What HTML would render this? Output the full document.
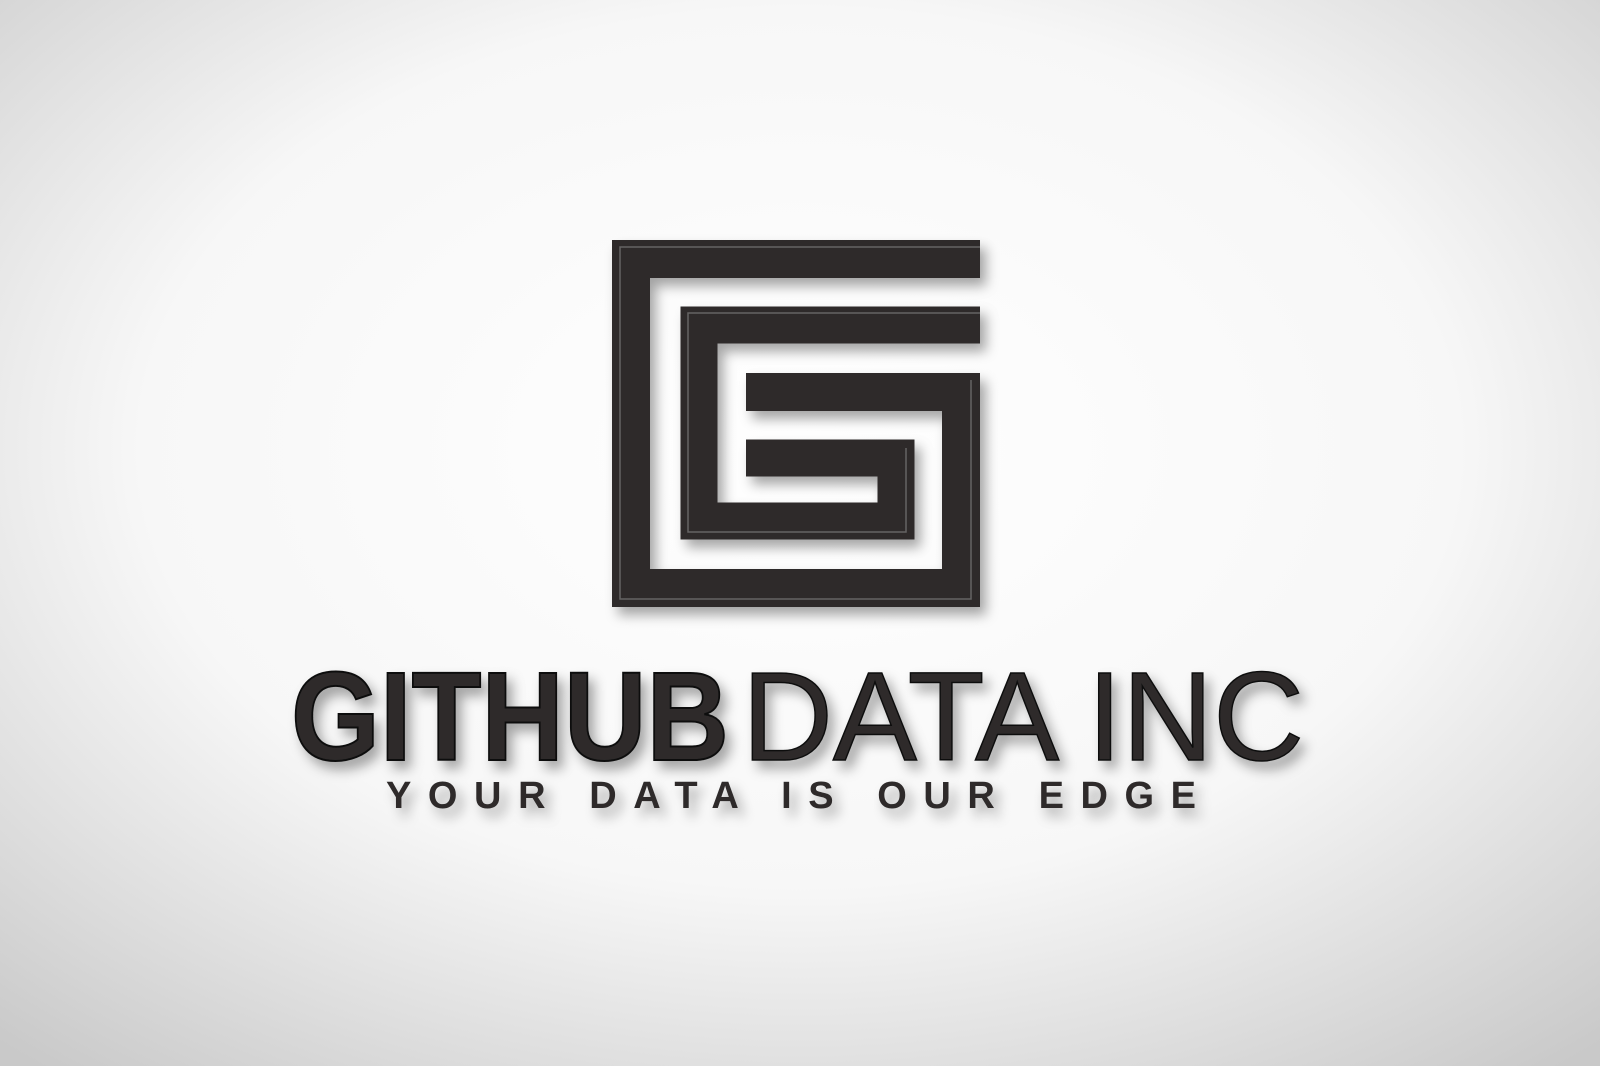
<!DOCTYPE html>
<html><head><meta charset="utf-8"><style>
html,body{margin:0;padding:0;width:1600px;height:1066px;overflow:hidden;background:#fff}
svg{display:block}
</style></head><body>
<svg width="1600" height="1066" viewBox="0 0 1600 1066" xmlns="http://www.w3.org/2000/svg">
<defs>
<radialGradient id="bg" cx="50%" cy="42%" r="75%">
<stop offset="0" stop-color="#ffffff"/><stop offset="0.55" stop-color="#f7f7f7"/><stop offset="1" stop-color="#c9c9c9"/>
</radialGradient>
<filter id="sh" x="-20%" y="-20%" width="150%" height="150%">
<feDropShadow dx="6" dy="8" stdDeviation="6" flood-color="#000" flood-opacity="0.35"/>
</filter>
<linearGradient id="metal" x1="0" y1="0" x2="1" y2="1">
<stop offset="0" stop-color="#3a3838"/><stop offset="0.5" stop-color="#2c2a2a"/><stop offset="1" stop-color="#353333"/>
</linearGradient>
</defs>
<rect width="1600" height="1066" fill="url(#bg)"/>
<g filter="url(#sh)" fill="none" stroke-linecap="butt" stroke-linejoin="miter">
<path d="M980 259 H631 V588 H961 V392 H746" stroke="#2e2c2c" stroke-width="38"/>
<path d="M980 325 H699 V521 H896 V458 H746" stroke="#2e2c2c" stroke-width="37"/>
<path d="M980 247 H620 V599 H971 V380" stroke="#8a8888" stroke-width="1.5" opacity="0.6"/>
<path d="M980 313 H688 V532 H906 V448" stroke="#8a8888" stroke-width="1.5" opacity="0.6"/>
</g>
<g filter="url(#sh)">
<text x="291" y="760" font-family="Liberation Sans, sans-serif" font-weight="bold" font-size="126" fill="#2e2c2c" stroke="#111" stroke-width="2" textLength="438" lengthAdjust="spacingAndGlyphs">GITHUB</text>
<text x="742" y="760" font-family="Liberation Sans, sans-serif" font-size="126" fill="#2e2c2c" stroke="#111" stroke-width="1.5" textLength="562" lengthAdjust="spacingAndGlyphs">DATA INC</text>
<text x="386" y="808" font-family="Liberation Sans, sans-serif" font-weight="bold" font-size="38" fill="#2e2c2c" textLength="810" lengthAdjust="spacing">YOUR DATA IS OUR EDGE</text>
</g>
</svg>
</body></html>
